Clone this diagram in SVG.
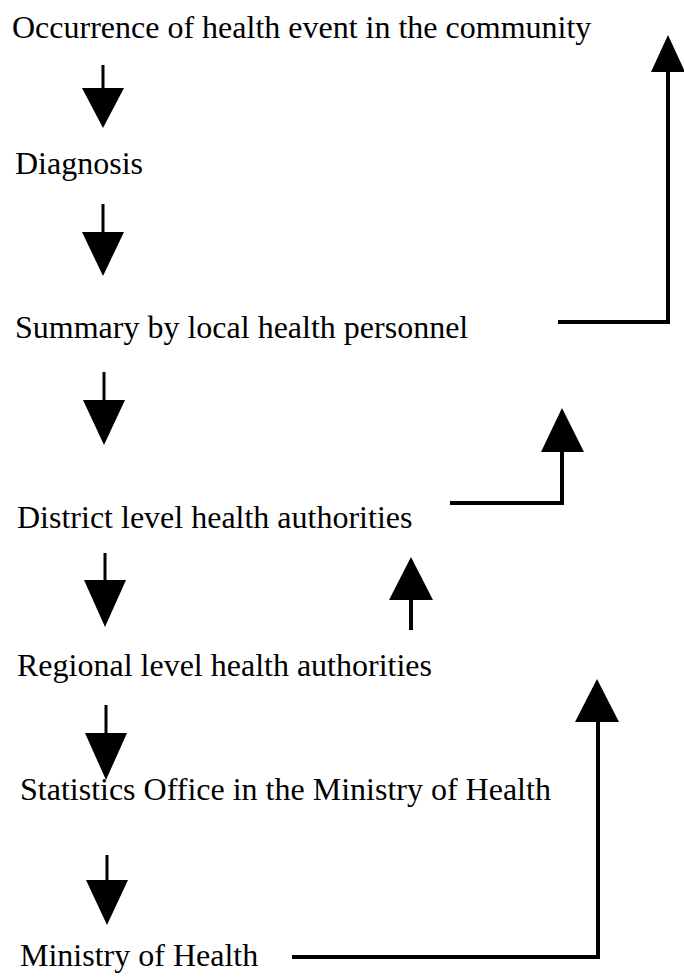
<svg xmlns="http://www.w3.org/2000/svg" width="684" height="977" viewBox="0 0 684 977">
<style>
.t{font-family:"Liberation Serif","Times New Roman",serif;font-size:32px;fill:#000}
.ln{stroke:#000;stroke-width:4;fill:none;stroke-linejoin:miter}
.sh{stroke:#000;stroke-width:3;fill:none}
.hd{fill:#000}
</style>
<rect width="684" height="977" fill="#fff"/>
<g id="n1"><text class="t" x="12" y="38">Occurrence of health event in the community</text></g>
<g id="n2"><text class="t" x="15" y="174">Diagnosis</text></g>
<g id="n3"><text class="t" x="15" y="338">Summary by local health personnel</text></g>
<g id="n4"><text class="t" x="17" y="528">District level health authorities</text></g>
<g id="n5"><text class="t" x="17" y="676">Regional level health authorities</text></g>
<g id="n6"><text class="t" x="20" y="800">Statistics Office in the Ministry of Health</text></g>
<g id="n7"><text class="t" x="20" y="966">Ministry of Health</text></g>
<g id="connectors">
<line class="sh" x1="103" y1="65" x2="103" y2="90"/>
<polygon class="hd" points="82,88 124,88 103,128"/>
<line class="sh" x1="103" y1="204" x2="103" y2="234"/>
<polygon class="hd" points="82,232 124,232 103,276"/>
<line class="sh" x1="104" y1="372" x2="104" y2="402"/>
<polygon class="hd" points="83,400 125,400 104,445"/>
<line class="sh" x1="105" y1="553" x2="105" y2="582"/>
<polygon class="hd" points="84,580 126,580 105,627"/>
<line class="sh" x1="106" y1="705" x2="106" y2="735"/>
<polygon class="hd" points="85,733 127,733 106,780"/>
<line class="sh" x1="107" y1="855" x2="107" y2="882"/>
<polygon class="hd" points="86,880 128,880 107,925"/>
<polyline class="ln" points="558,322 668,322 668,70"/>
<polygon class="hd" points="651,72 685,72 668,35"/>
<polyline class="ln" points="450,503 562,503 562,450"/>
<polygon class="hd" points="541,452 584,452 562,408"/>
<line class="ln" x1="411" y1="630" x2="411" y2="598"/>
<polygon class="hd" points="389,600 433,600 411,557"/>
<polyline class="ln" points="292,957 598,957 598,720"/>
<polygon class="hd" points="575,722 619,722 597,679"/>
</g>
</svg>
